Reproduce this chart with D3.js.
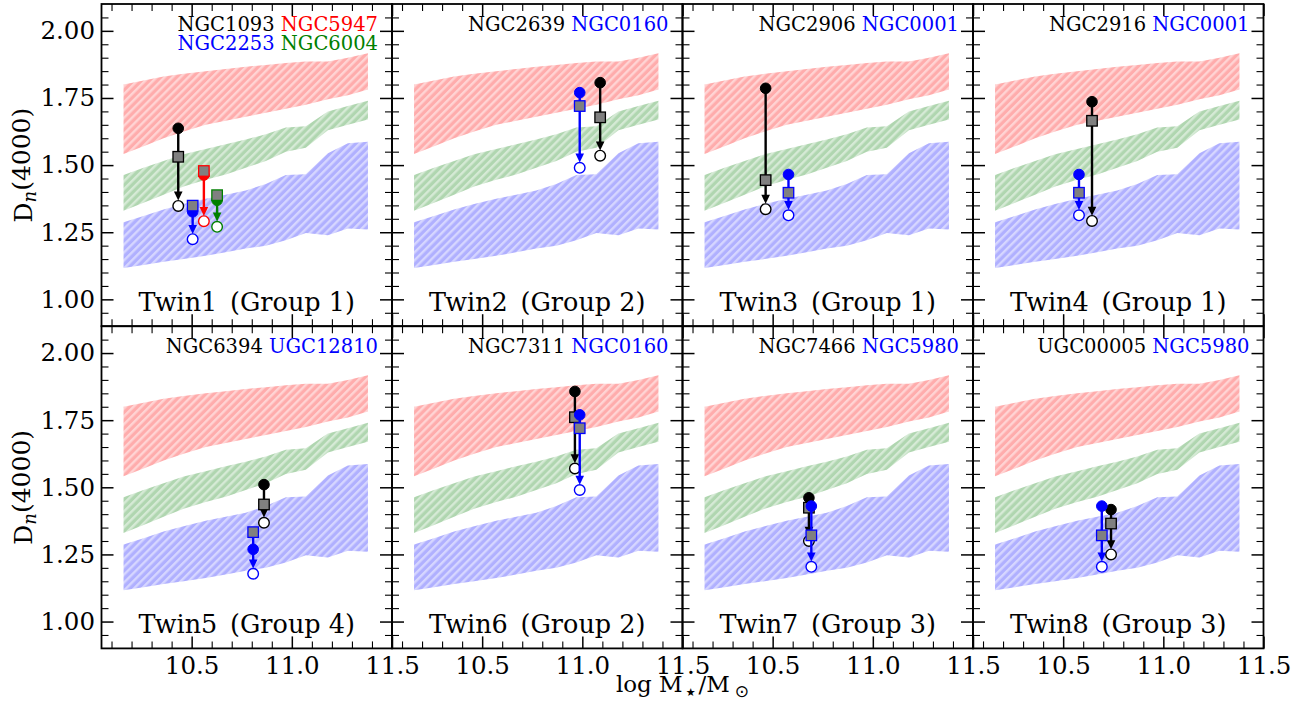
<!DOCTYPE html>
<html>
<head>
<meta charset="utf-8">
<title>Dn4000 twins</title>
<script src="https://d3js.org/d3.v7.min.js"></script>
<style>
    body { margin: 0; background: #fff; }
    text { font-family: "DejaVu Serif", serif; }
    .axis path.domain { display: none; }
    .axis line { stroke: #000; }
    .axis text { font-family: "DejaVu Serif", serif; font-size: 24.5px; fill: #000; }
</style>
</head>
<body>
<div id="vis_container"></div>
<script>
    // reference envelopes (same in every panel)
    var bandX   = [10.16, 10.26, 10.36, 10.46, 10.57, 10.67, 10.77, 10.87, 10.97, 11.07, 11.18, 11.28, 11.38];
    var redHi   = [1.800, 1.815, 1.830, 1.840, 1.850, 1.858, 1.866, 1.873, 1.880, 1.886, 1.886, 1.900, 1.917];
    var redLo   = [1.541, 1.570, 1.600, 1.625, 1.650, 1.665, 1.680, 1.695, 1.710, 1.725, 1.745, 1.760, 1.782];
    var greenHi = [1.463, 1.490, 1.515, 1.540, 1.560, 1.578, 1.595, 1.615, 1.640, 1.645, 1.700, 1.720, 1.740];
    var greenLo = [1.330, 1.360, 1.390, 1.420, 1.445, 1.465, 1.490, 1.515, 1.550, 1.565, 1.630, 1.650, 1.670];
    var blueHi  = [1.287, 1.310, 1.335, 1.355, 1.375, 1.390, 1.405, 1.430, 1.463, 1.466, 1.544, 1.581, 1.587];
    var blueLo  = [1.117, 1.128, 1.140, 1.150, 1.162, 1.175, 1.189, 1.200, 1.220, 1.247, 1.239, 1.264, 1.260];

    var panelTwin  = ["Twin1", "Twin2", "Twin3", "Twin4", "Twin5", "Twin6", "Twin7", "Twin8"];
    var panelGroup = ["Group 1", "Group 2", "Group 1", "Group 1", "Group 4", "Group 2", "Group 3", "Group 3"];
    // names written in the top-right corner, one inner list per line
    var panelNames = [
        [["NGC1093", "NGC5947"], ["NGC2253", "NGC6004"]],
        [["NGC2639", "NGC0160"]],
        [["NGC2906", "NGC0001"]],
        [["NGC2916", "NGC0001"]],
        [["NGC6394", "UGC12810"]],
        [["NGC7311", "NGC0160"]],
        [["NGC7466", "NGC5980"]],
        [["UGC00005", "NGC5980"]]
    ];

    // galaxies: filled circle (start), square (mid), open circle (end)
    var galPanel = [0, 0, 0, 0, 1, 1, 2, 2, 3, 3, 4, 4, 5, 5, 6, 6, 7, 7];
    var galName  = ["NGC1093", "NGC2253", "NGC5947", "NGC6004", "NGC2639", "NGC0160", "NGC2906", "NGC0001",
                    "NGC2916", "NGC0001", "NGC6394", "UGC12810", "NGC7311", "NGC0160", "NGC7466", "NGC5980",
                    "UGC00005", "NGC5980"];
    var galRole  = ["primary", "twin", "extra1", "extra2", "primary", "twin", "primary", "twin",
                    "primary", "twin", "primary", "twin", "primary", "twin", "primary", "twin", "primary", "twin"];
    var galX     = [10.433, 10.505, 10.561, 10.627, 11.089, 10.987, 10.465, 10.579,
                    10.644, 10.579, 10.861, 10.807, 10.963, 10.987, 10.681, 10.693, 10.739, 10.693];
    var galStart = [1.637, 1.326, 1.463, 1.369, 1.807, 1.770, 1.786, 1.465,
                    1.736, 1.465, 1.510, 1.269, 1.857, 1.770, 1.461, 1.430, 1.417, 1.430];
    var galMid   = [1.531, 1.349, 1.478, 1.388, 1.678, 1.720, 1.444, 1.397,
                    1.665, 1.397, 1.436, 1.333, 1.761, 1.720, 1.424, 1.321, 1.365, 1.321];
    var galEnd   = [1.348, 1.224, 1.291, 1.270, 1.535, 1.490, 1.336, 1.313,
                    1.292, 1.313, 1.368, 1.178, 1.570, 1.490, 1.300, 1.204, 1.250, 1.204];

    var xMajor = [10.5, 11.0, 11.5];
    var yMajor = [1.00, 1.25, 1.50, 1.75, 2.00];

    var roleColor = {primary: "#000000", twin: "#0000ff", extra1: "#ff0000", extra2: "#008000"};
    var nameColor = {};
    galName.forEach(function(n, i) { nameColor[n] = roleColor[galRole[i]]; });

    var width = 1309, height = 702;
    var left0 = 101.5, top0 = 4, pw = 290.5, ph = 322.2;

    var svg = d3.select("#vis_container")
            .append("svg")
            .attr("width", width)
            .attr("height", height);

    // hatched fills
    var defs = svg.append("defs");
    function addHatch(id, base, stripe) {
        var p = defs.append("pattern")
                .attr("id", id)
                .attr("patternUnits", "userSpaceOnUse")
                .attr("width", 5.6)
                .attr("height", 10)
                .attr("patternTransform", "rotate(45)");
        p.append("rect").attr("width", 5.6).attr("height", 10).attr("fill", base);
        p.append("rect").attr("width", 2.4).attr("height", 10).attr("fill", stripe);
    }
    addHatch("hatch-red", "#ffacac", "#ffd4d4");
    addHatch("hatch-green", "#b0d6b0", "#d6ead6");
    addHatch("hatch-blue", "#b0b0ff", "#d6d6ff");

    var x = d3.scaleLinear().domain([10.05, 11.5]).range([0, pw]);
    var y = d3.scaleLinear().domain([0.9, 2.1]).range([ph, 0]);

    var xMinor = d3.range(101, 115).filter(function(k) { return k % 5 != 0; }).map(function(k) { return k / 10; });
    var yMinor = d3.range(19, 42).filter(function(k) { return k % 5 != 0; }).map(function(k) { return k / 20; });

    var bands = [
        {lo: redLo, hi: redHi, fill: "url(#hatch-red)"},
        {lo: greenLo, hi: greenHi, fill: "url(#hatch-green)"},
        {lo: blueLo, hi: blueHi, fill: "url(#hatch-blue)"}
    ];

    var rOpen = 5.3, rFill = 5.3, sq = 10.5, headL = 9, headW = 4.3;

    panelTwin.forEach(function(twin, p) {
        var col = p % 4, row = Math.floor(p / 4);
        var g = svg.append("g")
                .attr("transform", "translate(" + (left0 + col * pw) + "," + (top0 + row * ph) + ")");

        // bands
        bands.forEach(function(b) {
            var a = d3.area()
                    .x(function(d, i) { return x(bandX[i]); })
                    .y0(function(d, i) { return y(b.lo[i]); })
                    .y1(function(d, i) { return y(b.hi[i]); });
            g.append("path")
                    .attr("d", a(bandX))
                    .attr("fill", b.fill);
        });

        // axes: ticks pointing inwards on all four sides
        function axis(gen, tr, vals, len, fmt, pad) {
            var ax = g.append("g").attr("class", "axis").attr("transform", tr)
                    .call(gen.tickValues(vals).tickSize(-len).tickSizeOuter(0).tickPadding(pad).tickFormat(fmt));
            ax.selectAll("line").attr("stroke-width", len > 10 ? 1.5 : 1.1);
            return ax;
        }
        var fx = row == 1 ? d3.format(".1f") : "";
        var fy = col == 0 ? d3.format(".2f") : "";
        axis(d3.axisBottom(x), "translate(0," + ph + ")", xMajor, 12, fx, 8);
        axis(d3.axisBottom(x), "translate(0," + ph + ")", xMinor, 7, "", 8);
        axis(d3.axisTop(x), "translate(0,0)", xMajor, 12, "", 8);
        axis(d3.axisTop(x), "translate(0,0)", xMinor, 7, "", 8);
        axis(d3.axisLeft(y), "translate(0,0)", yMajor, 12, fy, 6.5);
        axis(d3.axisLeft(y), "translate(0,0)", yMinor, 7, "", 6.5);
        axis(d3.axisRight(y), "translate(" + pw + ",0)", yMajor, 12, "", 6.5);
        axis(d3.axisRight(y), "translate(" + pw + ",0)", yMinor, 7, "", 6.5);

        g.append("rect")
                .attr("width", pw)
                .attr("height", ph)
                .attr("fill", "none")
                .attr("stroke", "#000")
                .attr("stroke-width", 1.8);

        // galaxy tracks
        galPanel.forEach(function(gp, i) {
            if (gp != p) return;
            var c = nameColor[galName[i]];
            var cx = x(galX[i]);
            var yTop = y(Math.max(galStart[i], galMid[i]));
            var yTip = y(galEnd[i]) - rOpen;
            g.append("line")
                    .attr("x1", cx).attr("x2", cx)
                    .attr("y1", yTop).attr("y2", yTip - headL + 1)
                    .attr("stroke", c)
                    .attr("stroke-width", 2.4);
            g.append("path")
                    .attr("d", "M" + (cx - headW) + "," + (yTip - headL) + "L" + (cx + headW) + "," + (yTip - headL) + "L" + cx + "," + yTip + "Z")
                    .attr("fill", c);
            g.append("circle")
                    .attr("cx", cx).attr("cy", y(galStart[i])).attr("r", rFill)
                    .attr("fill", c).attr("stroke", c).attr("stroke-width", 1);
            g.append("rect")
                    .attr("x", cx - sq / 2).attr("y", y(galMid[i]) - sq / 2)
                    .attr("width", sq).attr("height", sq)
                    .attr("fill", "#808080").attr("stroke", c).attr("stroke-width", 1.3);
            g.append("circle")
                    .attr("cx", cx).attr("cy", y(galEnd[i])).attr("r", rOpen)
                    .attr("fill", "#fff").attr("stroke", c).attr("stroke-width", 1.4);
        });

        // names
        panelNames[p].forEach(function(line, li) {
            var t = g.append("text")
                    .attr("x", pw - 14)
                    .attr("y", 27 + li * 18.5)
                    .attr("text-anchor", "end")
                    .style("font-size", "19.5px");
            line.forEach(function(n, k) {
                t.append("tspan")
                        .attr("fill", nameColor[n])
                        .text((k > 0 ? " " : "") + n);
            });
        });

        g.append("text")
                .attr("x", pw / 2)
                .attr("y", 306.5)
                .attr("text-anchor", "middle")
                .style("font-size", "25.5px")
                .text(twin + "\u2002(" + panelGroup[p] + ")");
    });

    // y labels, one per row
    [0, 1].forEach(function(row) {
        var t = svg.append("text")
                .attr("transform", "translate(32," + (top0 + row * ph + ph / 2) + ") rotate(-90)")
                .attr("text-anchor", "middle")
                .style("font-size", "25px");
        t.append("tspan").text("D");
        t.append("tspan").attr("dy", "0.22em").style("font-style", "italic").style("font-size", "18px").text("n");
        t.append("tspan").attr("dy", "-0.22em").text("(4000)");
    });

    // x label
    var xl = svg.append("text")
            .attr("x", left0 + 2 * pw)
            .attr("y", 692)
            .attr("text-anchor", "middle")
            .style("font-size", "23px");
    xl.append("tspan").text("log M");
    xl.append("tspan").attr("dx", 3).attr("dy", 4)
            .style("font-family", "'DejaVu Sans', sans-serif").style("font-size", "11px").text("\u2605");
    xl.append("tspan").attr("dx", 3).attr("dy", -4).text("/M");
    xl.append("tspan").attr("dx", 5).attr("dy", 5)
            .style("font-family", "'DejaVu Sans', sans-serif").style("font-size", "17px").text("\u2299");
</script>
</body>
</html>
